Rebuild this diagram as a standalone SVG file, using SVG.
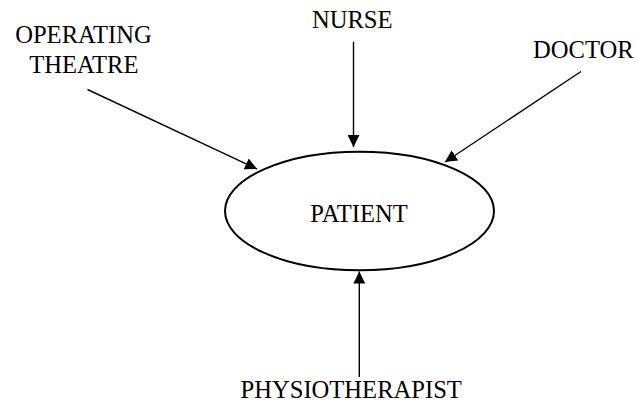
<svg xmlns="http://www.w3.org/2000/svg" width="638" height="407" viewBox="0 0 638 407">
<style>
text{font-family:"Liberation Serif","Times New Roman",serif;font-size:24.6px;fill:#000;text-anchor:middle}
.c{stroke:#000;stroke-width:1.4;fill:none}
</style>
<defs>
<marker id="ah" markerUnits="userSpaceOnUse" markerWidth="12" markerHeight="12" viewBox="0 0 10 10" refX="10" refY="5" orient="auto">
<path d="M0,0 L10,5 L0,10 Z" fill="#000"/>
</marker>
</defs>
<rect width="638" height="407" fill="#fff"/>
<g id="connectors">
<line class="c" x1="87.5" y1="89.5" x2="257" y2="169" marker-end="url(#ah)"/>
<line class="c" x1="353.5" y1="42" x2="353.5" y2="147" marker-end="url(#ah)"/>
<line class="c" x1="581" y1="71.5" x2="445" y2="162" marker-end="url(#ah)"/>
<line class="c" x1="359.3" y1="377" x2="359.3" y2="271.5" marker-end="url(#ah)"/>
</g>
<g id="patient">
<ellipse cx="359.5" cy="211" rx="134.5" ry="59.3" fill="none" stroke="#000" stroke-width="2"/>
<text x="359" y="221.5">PATIENT</text>
</g>
<g id="operating-theatre">
<text x="83.5" y="43.3">OPERATING</text>
<text x="83.8" y="72.7">THEATRE</text>
</g>
<g id="nurse"><text x="352.2" y="28.3">NURSE</text></g>
<g id="doctor"><text x="583.3" y="57.7">DOCTOR</text></g>
<g id="physiotherapist"><text x="351.2" y="398.3">PHYSIOTHERAPIST</text></g>
</svg>
